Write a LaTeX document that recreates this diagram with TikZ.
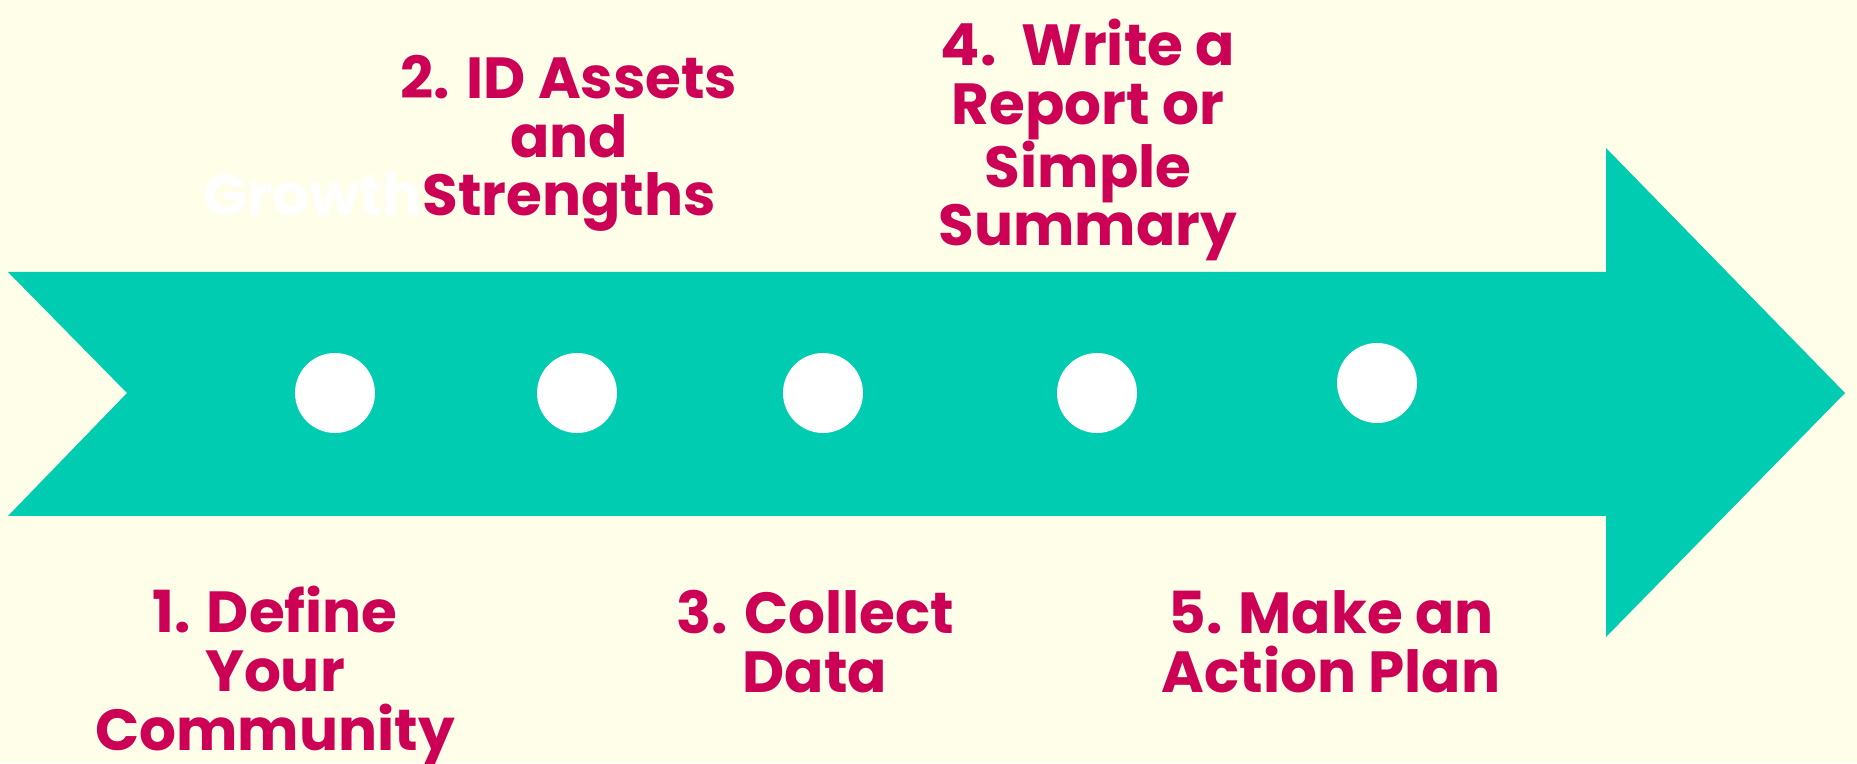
\documentclass[tikz,border=0pt]{standalone}
\usepackage{fontspec}
\setmainfont{Poppins}
\definecolor{bgc}{RGB}{255,254,232}
\definecolor{teal}{RGB}{0,204,177}
\definecolor{pinkc}{RGB}{204,0,85}
\begin{document}
\begin{tikzpicture}[x=1pt,y=1pt,
  lbl/.style={inner sep=0pt,align=center,text=pinkc,font=\fontsize{58}{58.6}\selectfont\bfseries,anchor=base},
  dot/.style={circle,fill=white,minimum size=80pt,inner sep=0pt}]
\fill[bgc] (0,0) rectangle (1857,763);
\useasboundingbox (0,0) rectangle (1857,763);
\fill[teal] (8,491) -- (1606,491) -- (1606,615) -- (1845,370) -- (1606,126) -- (1606,247) -- (8,247) -- (127,370) -- cycle;
\node[dot] (d1) at (335,370) {};
\node[dot] (d2) at (577,370) {};
\node[dot] (d3) at (823,370) {};
\node[dot] (d4) at (1097,370) {};
\node[dot] (d5) at (1377,380) {};
\node[lbl,text=white,anchor=base west] (g) at (203,547) {Growth};
\node[lbl] (t1) at (275,13) {1. Define\\Your\\Community};
\node[lbl] (t2) at (569,547) {2. ID Assets\\and\\Strengths};
\node[lbl] (t3) at (815,71) {3. Collect\\Data};
\node[lbl] (t4) at (1088,517) {4.\ \ Write a\\Report or\\Simple\\Summary};
\node[lbl] (t5) at (1331,71) {5. Make an\\Action Plan};
\end{tikzpicture}
\end{document}
